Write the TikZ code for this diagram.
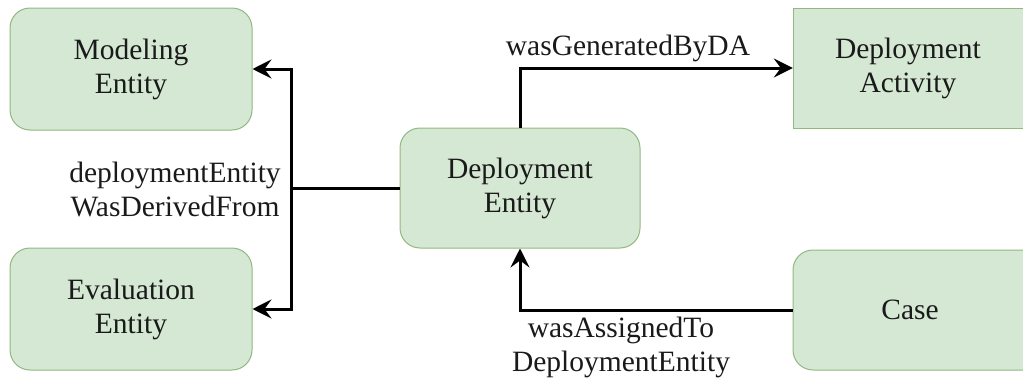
\documentclass[tikz,border=0pt]{standalone}
\usepackage{fontspec}
\setmainfont{Liberation Serif}
\usetikzlibrary{arrows.meta}
\definecolor{boxfill}{HTML}{D5E8D4}
\definecolor{boxline}{HTML}{92B880}
\definecolor{txt}{HTML}{1A1A1A}
\begin{document}
\begin{tikzpicture}[x=1pt,y=-1pt,
  every node/.style={font=\fontsize{29.5}{34}\selectfont, text=txt, align=center, inner sep=0pt},
  box/.style={draw=boxline, fill=boxfill, line width=1pt, rounded corners=20pt},
  sqbox/.style={draw=boxline, fill=boxfill, line width=1pt},
  conn/.style={line width=3pt, draw=black},
  arr/.style={conn, -{Stealth[length=19pt,width=19pt,inset=7pt]}}]
\useasboundingbox (0,0) rectangle (1023,383);
\clip (0,0) rectangle (1023,383);
\node[box, minimum width=242pt, minimum height=122pt] (M) at (131,69) {Modeling\\Entity};
\node[box, minimum width=242pt, minimum height=122pt] (E) at (131,309) {Evaluation\\Entity};
\node[box, minimum width=240pt, minimum height=120pt] (DE) at (520,188) {Deployment\\Entity};
\path[sqbox] (793,8) rectangle (1053,128);
\node[minimum width=230pt, minimum height=120pt] (DA) at (908,68) {Deployment\\Activity};
\path[box] (793,250) rectangle (1053,370);
\node[minimum width=234pt, minimum height=120pt] (C) at (910,310) {Case};
\coordinate (j) at (291,188);
\draw[conn] (DE.west) -- (j);
\draw[arr] (j) |- (M.east);
\draw[arr] (j) |- (E.east);
\draw[arr] (DE.north) |- (DA.west);
\draw[arr] (C.west) -| (DE.south);
\node (l1) at (175,189) {deploymentEntity\\WasDerivedFrom};
\node (l2) at (628,48) {wasGeneratedByDA};
\node (l3) at (621,347) {wasAssignedTo\\DeploymentEntity};
\end{tikzpicture}
\end{document}
